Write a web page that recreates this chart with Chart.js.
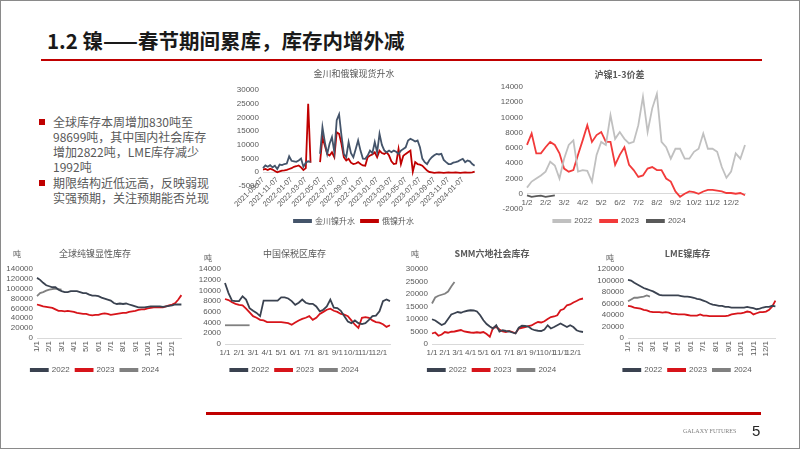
<!DOCTYPE html>
<html>
<head>
<meta charset="utf-8">
<script src="https://cdn.jsdelivr.net/npm/chart.js@4.4.1/dist/chart.umd.min.js"></script>
<style>
body{margin:0;background:#fff;font-family:"Noto Sans CJK SC",sans-serif;}
#slide{position:relative;width:802px;height:451px;overflow:hidden;background:#fff;}
.frame{position:absolute;left:0;top:0;width:798px;height:447px;border:1px solid #8a8a8a;}
h1{position:absolute;left:47px;top:26px;margin:0;font-size:20.5px;line-height:28px;font-weight:bold;color:#1a1a1a;}
.rule{position:absolute;background:#c00000;}
.sq{position:absolute;width:6px;height:6px;background:#c00000;}
.txt{position:absolute;left:53px;font-size:12px;line-height:15px;color:#595959;white-space:nowrap;}
.unit{position:absolute;font-size:8px;color:#595959;line-height:10px;}
canvas{position:absolute;}
.foot{position:absolute;color:#7f7f7f;}
</style>
</head>
<body>
<div id="slide">
  <div class="frame"></div>
  <h1>1.2 镍——春节期间累库，库存内增外减</h1>
  <div class="rule" style="left:41px;top:59px;width:721px;height:2px;"></div>

  <div class="sq" style="left:39px;top:119px;"></div>
  <div class="txt" style="top:114px;">全球库存本周增加830吨至<br>98699吨，其中国内社会库存<br>增加2822吨，LME库存减少<br>1992吨</div>
  <div class="sq" style="left:39px;top:180px;"></div>
  <div class="txt" style="top:175px;">期限结构近低远高，反映弱现<br>实强预期，关注预期能否兑现</div>

  <canvas id="c1" width="256" height="173" style="left:228px;top:62px;"></canvas>
  <canvas id="c2" width="262" height="173" style="left:490px;top:62px;"></canvas>
  <canvas id="c3" width="192" height="142" style="left:2px;top:242px;"></canvas>
  <canvas id="c4" width="202" height="142" style="left:196px;top:242px;"></canvas>
  <canvas id="c5" width="195" height="142" style="left:398px;top:242px;"></canvas>
  <canvas id="c6" width="196" height="142" style="left:592px;top:242px;"></canvas>

  <div class="unit" style="left:13px;top:249px;">吨</div>
  <div class="unit" style="left:204px;top:253px;">吨</div>
  <div class="unit" style="left:411px;top:249px;">吨</div>
  <div class="unit" style="left:606px;top:253px;">吨</div>

  <div class="rule" style="left:206px;top:412px;width:555px;height:3px;"></div>
  <div class="foot" style="left:683px;top:427px;font-family:'Liberation Serif',serif;font-size:6px;line-height:8px;">GALAXY FUTURES</div>
  <div class="foot" style="left:752px;top:422px;font-family:'Liberation Sans',Arial,sans-serif;font-size:15px;line-height:18px;color:#262626;">5</div>
</div>

<script>
// ---- 金川和俄镍现货升水 (3 obs per month, 2021-09-07 .. 2024-02)
const DATE_TICKS = ['2021-09-07','2021-11-07','2022-01-07','2022-03-07','2022-05-07','2022-07-07','2022-09-07','2022-11-07','2023-01-07','2023-03-07','2023-05-07','2023-07-07','2023-09-07','2023-11-07','2024-01-07'];
const jinchuan = [1500,2500,2000,2600,1800,2400,1200,2800,2600,3000,3200,5800,4200,4000,3800,4300,5000,2000,3500,4000,3800,null,null,null,6700,16500,11000,6700,10400,12800,7300,19000,21100,13400,6700,5500,11000,7000,5500,8500,11600,7900,5000,4900,6100,7900,7000,11000,7300,14000,10000,8000,7300,7900,7300,7900,7500,6700,7900,8500,9100,11600,12200,11800,11200,11600,9100,5000,3700,3000,4500,5500,6200,6700,6500,6700,4500,3700,3000,3000,3500,3700,4000,4500,4900,3700,4300,4000,3000,2400];
const russia = [1000,1200,800,1300,1000,500,0,300,600,700,900,1200,1500,2000,2200,2500,1800,800,1500,25000,3500,null,null,null,3700,12800,9800,6700,6100,7300,5500,14600,14000,10400,5500,4300,4900,3500,3000,3200,3700,3000,2500,2400,5500,6100,6500,7300,5500,7900,7000,6700,7300,6100,4000,3000,3200,8500,3000,6000,6700,7300,7900,200,3700,3000,2800,2400,1500,600,100,0,-200,-100,0,-100,-200,-100,0,-100,-100,0,-100,-200,-100,0,-100,-100,0,200];

// ---- 沪镍1-3价差 (4 obs per month)
const SPREAD_TICKS = ['1/2','2/2','3/2','4/2','5/2','6/2','7/2','8/2','9/2','10/2','11/2','12/2'];
const spread2022 = [800,1600,2000,2400,2900,4200,3700,2000,4600,6400,7000,2900,3100,3000,1600,5100,6800,6400,10300,7200,8100,7200,6600,6800,9000,12700,8100,11200,13100,6800,6100,4600,5900,5900,4600,4600,5500,5900,7900,5900,5900,5500,3500,2100,2900,5300,4600,6400];
const spread2023 = [6400,7900,5300,5300,6100,6800,6400,5300,3300,2900,3100,5100,7000,9000,6800,7700,8100,6800,6800,3800,5100,6100,3800,3100,2200,2400,3300,3500,3100,3100,2000,1600,300,-400,0,300,200,0,300,500,500,400,300,100,100,0,100,-200];
const spread2024 = [-200,-400,-300,-250,-400,-300,-200];

// ---- inventory charts (4 obs per month)
const MONTH_TICKS = ['1/1','2/1','3/1','4/1','5/1','6/1','7/1','8/1','9/1','10/1','11/1','12/1'];
const global2022 = [122000,118000,112000,107000,105000,103000,103000,98000,95000,93000,93000,95000,95000,95000,93000,91000,91000,88000,86000,86000,85000,82000,80000,78000,76000,71000,69000,70000,69000,70000,68000,66000,64000,62000,62000,62000,63000,64000,64000,64000,64000,63000,64000,65000,66000,68000,68000,68000];
const global2023 = [68000,66000,64000,63000,62000,61000,58000,55000,55000,54000,55000,54000,53000,51000,50000,49000,49000,47000,46000,47000,47000,49000,50000,49000,47000,48000,49000,50000,51000,51000,53000,54000,55000,57000,58000,58000,60000,61000,62000,62000,62000,62000,64000,66000,68000,71000,78000,87000];
const global2024 = [85000,91000,93000,96000,98000,99000,100000,99000,98000];

const bonded2022 = [11400,9500,8100,8000,8000,8900,8300,6700,6200,5800,5200,8100,8100,8100,8100,8100,8700,8700,8500,8000,7300,7700,8300,7700,7500,7500,7000,6100,6400,7000,8300,6800,6700,6200,5200,4200,3900,4400,3900,3700,3900,4500,5200,5300,6100,8000,8300,8000];
const bonded2023 = [8400,8200,7800,7500,7300,7200,6600,5900,5200,4900,4500,4400,4100,4100,4100,4100,4100,4000,3900,3600,4000,4400,4700,4900,5200,4500,4900,5600,6000,6400,6600,6200,6000,5600,5500,5200,4400,3600,3000,4900,5000,4900,4400,4100,4000,3700,3200,3500];
const bonded2024 = [3500,3500,3500,3500,3500,3500,3500,3500];

const smm2022 = [9900,9400,8500,7600,8200,10000,11800,12300,12800,12500,13000,13300,13500,13400,13000,11500,9500,8000,7000,6200,7500,5000,5500,5200,5000,4600,4200,6500,7300,7200,7000,6000,5500,5300,5200,5800,7500,6200,6800,7500,8200,7500,6800,7500,6800,5500,5000,4800];
const smm2023 = [4200,4600,3300,3800,4800,4500,4900,5000,5300,5600,5000,4800,4600,4500,4700,4500,4800,4000,2900,6500,6800,5800,5000,4800,5200,4800,4300,6200,6500,6700,7200,7400,8200,8800,8600,9100,10000,10800,11000,11500,13500,14000,15500,15800,16600,17200,17900,18200];
const smm2024 = [16200,18600,19300,19700,20100,21000,23000,24800];

const lme2022 = [101000,100000,96000,93000,90000,87000,85000,83000,81000,78000,75000,74000,74000,74000,74000,74000,74000,73000,72000,72000,71000,70000,68000,67000,65000,63000,60000,58000,57000,56000,56000,54000,54000,53000,53000,53000,53000,53000,54000,53000,52000,50000,51000,53000,54000,54000,56000,55000];
const lme2023 = [56000,55000,53000,52000,51000,49000,48000,46000,45000,45000,45000,44000,45000,44000,42000,42000,41000,41000,41000,40000,39000,39000,39000,41000,39000,39000,38000,38000,38000,38000,38000,38000,39000,41000,42000,43000,43000,44000,46000,45000,41000,43000,45000,45000,46000,49000,55000,65000];
const lme2024 = [64000,67000,70000,70000,71000,72000,74000,72000];

const NUM = "'Liberation Sans', Arial, sans-serif";
const CJK = "'Noto Sans CJK SC', sans-serif";
const DARK = '#3a4250', RED = '#d7141a', GREY = '#808080';

// category slots: each tick label followed by (n-1) unlabeled observations
function slots(ticks, n){
  const out = [];
  ticks.forEach(t => { out.push(t); for (let i = 1; i < n; i++) out.push(''); });
  return out;
}
function line(label, data, color){
  return {label, data, borderColor:color, backgroundColor:color, borderWidth:1.8, pointRadius:0, tension:0, spanGaps:false};
}
function makeChart(id, labels, datasets, o){
  const x = {position:o.xPos||'bottom', grid:{display:false, drawTicks:false}, border:{display:true, color:'#d9d9d9'},
    ticks:{autoSkip:false, minRotation:o.rot, maxRotation:o.rot, padding:o.xPad, color:'#595959', font:{family:NUM, size:o.xFont||8}}};
  if (o.xh) x.afterFit = s => { s.height = o.xh; };
  return new Chart(document.getElementById(id), {
    type:'line',
    data:{labels, datasets},
    options:{
      responsive:false, animation:false,
      layout:{padding:o.pad},
      plugins:{
        title:{display:true, text:o.title, color:'#595959', font:{family:CJK, size:9, weight:o.bold?'bold':'normal'}, padding:o.titlePad},
        legend:{position:'bottom', labels:{boxWidth:17, boxHeight:2, padding:o.legPad, color:'#595959', font:{family:o.legFont||NUM, size:8}}, title:o.legTitle||{display:false}},
        tooltip:{enabled:false}
      },
      scales:{
        x,
        y:{min:o.min, max:o.max, grid:{display:false, drawTicks:false}, border:{display:false},
           ticks:{stepSize:o.step, autoSkip:false, padding:4, color:'#595959', font:{family:NUM, size:8}, callback:v => String(v)},
           afterFit:s => { s.width = o.yw; }}
      }
    }
  });
}

makeChart('c1', slots(DATE_TICKS, 6), [line('金川镍升水', jinchuan, '#44546a'), line('俄镍升水', russia, '#c00000')], {
  title:'金川和俄镍现货升水', titlePad:{top:6.6, bottom:10.6}, pad:{left:2, right:6, top:0, bottom:0},
  min:-5000, max:30000, step:5000, yw:33, rot:45, xPos:{y:0}, xPad:3, xFont:7.5, legPad:6, legFont:CJK,
  legTitle:{display:true, text:'', padding:{top:23.8, bottom:0}, font:{size:1}}
});
makeChart('c2', slots(SPREAD_TICKS, 4), [line('2022', spread2022, '#c0c0c0'), line('2023', spread2023, '#f23a3a'), line('2024', spread2024, '#595959')], {
  title:'沪镍1-3价差', bold:true, titlePad:{top:7.6, bottom:6.6}, pad:{left:4, right:7, top:0, bottom:0},
  min:-2000, max:14000, step:2000, yw:33, rot:0, xPos:{y:0}, xPad:4, legPad:8
});
const bottomCommon = {titlePad:{top:6.6, bottom:9.6}, legPad:6};
makeChart('c3', slots(MONTH_TICKS, 4), [line('2022', global2022, DARK), line('2023', global2023, RED), line('2024', global2024, GREY)], {
  ...bottomCommon, title:'全球纯镍显性库存', pad:{left:3, right:9, top:0, bottom:0},
  min:0, max:140000, step:20000, yw:32, rot:90, xPad:3, xh:22
});
makeChart('c4', slots(MONTH_TICKS, 4), [line('2022', bonded2022, DARK), line('2023', bonded2023, RED), line('2024', bonded2024, GREY)], {
  ...bottomCommon, title:'中国保税区库存', pad:{left:3, right:8, top:0, bottom:0},
  min:0, max:14000, step:2000, yw:26, rot:0, xPad:4, xh:16
});
makeChart('c5', slots(MONTH_TICKS, 4), [line('2022', smm2022, DARK), line('2023', smm2023, RED), line('2024', smm2024, GREY)], {
  ...bottomCommon, title:'SMM六地社会库存', bold:true, pad:{left:3, right:10, top:0, bottom:0},
  min:0, max:30000, step:5000, yw:31, rot:0, xPad:4, xh:16
});
makeChart('c6', slots(MONTH_TICKS, 4), [line('2022', lme2022, DARK), line('2023', lme2023, RED), line('2024', lme2024, GREY)], {
  ...bottomCommon, title:'LME镍库存', bold:true, pad:{left:3, right:8, top:0, bottom:0},
  min:0, max:120000, step:20000, yw:33, rot:90, xPad:3, xh:22
});
</script>
</body>
</html>
